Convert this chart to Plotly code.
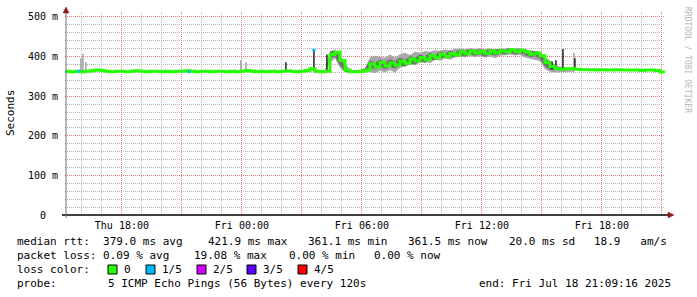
import pandas as pd
import plotly.graph_objects as go

# ---------------- data ----------------
start = "2025-07-17 15:09:16"
end = "2025-07-18 21:09:16"
grid_times = pd.date_range(start, periods=121, freq="15min")

median_ms = [
    363, 362, 363, 362, 363,
    364, 366, 365, 363, 362,
    363, 363, 362, 363, 364,
    363, 362, 363, 363, 362,
    363, 362, 363, 363, 364,
    363, 362, 363, 363, 362,
    363, 363, 362, 363, 362,
    363, 365, 363, 362, 363,
    362, 363, 362, 363, 364,
    363, 362, 363, 365, 369,
    363, 362, 363, 405, 411,
    390, 366, 362, 362, 363,
    366, 382, 374, 385, 376,
    384, 378, 388, 383, 394,
    389, 398, 392, 403, 397,
    406, 400, 408, 404, 412,
    407, 414, 409, 413, 408,
    414, 410, 415, 412, 417,
    413, 416, 411, 406, 409,
    402, 385, 375, 370, 368,
    369, 370, 368, 367, 367,
    367, 366, 367, 366, 366,
    367, 366, 366, 366, 366,
    365, 366, 366, 365, 361,
    361,
]

# outer smoke (spread of the pings), grid index 52..102
smoke_start = 52
smoke_lo = [
    361, 385, 395, 372, 360, 359, 359, 360, 360, 362,
    358, 364, 360, 366, 360, 372, 375, 380, 378, 385,
    388, 383, 392, 390, 395, 392, 398, 400, 398, 402,
    399, 401, 397, 400, 396, 402, 404, 405, 403, 404,
    398, 395, 392, 388, 368, 362, 360, 360, 361, 362,
    362,
]
smoke_hi = [
    366, 414, 418, 408, 385, 365, 365, 366, 372, 398,
    402, 400, 397, 405, 398, 406, 410, 404, 412, 410,
    414, 412, 416, 415, 418, 416, 420, 420, 419, 421,
    420, 421, 419, 421, 418, 420, 421, 422, 420, 421,
    418, 416, 414, 412, 400, 390, 380, 375, 374, 372,
    370,
]

# inner (dense) smoke, grid index 53..98
inner_start = 53
inner_lo = [
    395, 400, 378, 362, 360, 360, 361, 362,
    372, 368, 375, 368, 374, 370,
    378, 375, 383, 380, 388, 384,
    393, 391, 398, 396, 400, 399,
    404, 400, 406, 402, 405, 400, 406, 403, 407, 405, 409, 406, 409,
    404, 399, 401, 395,
    375, 367, 364,
]
inner_hi = [
    412, 415, 400, 375, 364, 364, 365, 370,
    390, 385, 392, 386, 393, 388,
    397, 392, 401, 397, 405, 400,
    410, 404, 413, 408, 415, 411,
    418, 414, 419, 416, 418, 415, 419, 417, 420, 418, 421, 419, 420,
    417, 413, 415, 410,
    395, 385, 376,
]

# single-sample spikes
spike_times = ["2025-07-17 15:57", "2025-07-17 16:03", "2025-07-17 16:12",
               "2025-07-17 23:57", "2025-07-18 00:12", "2025-07-18 02:12",
               "2025-07-18 03:36", "2025-07-18 04:15", "2025-07-18 15:30",
               "2025-07-18 15:42", "2025-07-18 16:03", "2025-07-18 16:36",
               "2025-07-18 16:39"]
spike_lo = [363, 363, 363, 363, 363, 363, 363, 363, 368, 368, 368, 368, 368]
spike_hi = [395, 407, 386, 391, 386, 386, 416, 405, 388, 391, 419, 410, 396]
spike_dark = [False, False, False, False, False, True, True, True, True, True, True, False, True]

loss_times = ["2025-07-17 15:51", "2025-07-17 21:21", "2025-07-18 03:36"]
loss_ms = [363, 362, 416]

y_ticks = [0, 100, 200, 300, 400, 500]
y_ticktext = ["0\u00a0\u00a0", "100 m", "200 m", "300 m", "400 m", "500 m"]
x_ticks = ["2025-07-17 18:00", "2025-07-17 21:00", "2025-07-18 00:00", "2025-07-18 03:00",
           "2025-07-18 06:00", "2025-07-18 09:00", "2025-07-18 12:00", "2025-07-18 15:00",
           "2025-07-18 18:00", "2025-07-18 21:00"]
x_ticktext = ["Thu 18:00", "", "Fri 00:00", "", "Fri 06:00", "", "Fri 12:00", "", "Fri 18:00", ""]

loss_labels = ["0", "1/5", "2/5", "3/5", "4/5"]
loss_colors = ["#26ff00", "#00b8ff", "#d400ff", "#5a00ff", "#ff0000"]

# ---------------- geometry helpers (pixels -> paper) ----------------
W, H = 697, 297
L, R, T, B = 65, 32, 12, 82
PW, PH = W - L - R, H - T - B


def px(x):
    return (x - L) / PW


def py(y):
    return (T + PH - y) / PH


MONO = "DejaVu Sans Mono"

fig = go.Figure()


def band(times, lo, hi, color):
    fig.add_trace(go.Scatter(x=times, y=lo, mode="lines", line=dict(width=0, color=color),
                             showlegend=False, hoverinfo="skip"))
    fig.add_trace(go.Scatter(x=times, y=hi, mode="lines", fill="tonexty", fillcolor=color,
                             line=dict(width=0, color=color),
                             showlegend=False, hoverinfo="skip"))


band(list(grid_times[smoke_start:smoke_start + len(smoke_lo)]), smoke_lo, smoke_hi, "#a8a8a8")
band(list(grid_times[inner_start:inner_start + len(inner_lo)]), inner_lo, inner_hi, "#6e6e6e")

for dark, color in [(False, "#a0a0a0"), (True, "#202020")]:
    xs, ys = [], []
    for t, lo, hi, d in zip(spike_times, spike_lo, spike_hi, spike_dark):
        if d == dark:
            xs += [t, t, None]
            ys += [lo, hi, None]
    fig.add_trace(go.Scatter(x=xs, y=ys, mode="lines", line=dict(width=1.5, color=color),
                             showlegend=False, hoverinfo="skip"))

fig.add_trace(go.Scatter(x=list(grid_times), y=median_ms, mode="lines",
                         line=dict(width=3, color=loss_colors[0], shape="hv"), showlegend=False))
fig.add_trace(go.Scatter(x=loss_times, y=loss_ms, mode="markers",
                         marker=dict(symbol="square", size=3, color=loss_colors[1]),
                         showlegend=False))

minor_hours = list(pd.date_range("2025-07-17 16:00", "2025-07-18 21:00", freq="1h"))

fig.update_layout(
    width=W, height=H,
    margin=dict(l=L, r=R, t=T, b=B, pad=0),
    paper_bgcolor="white", plot_bgcolor="white",
    font=dict(family=MONO, size=10, color="#000000"),
    showlegend=False,
    xaxis=dict(
        type="date", range=[start, end],
        tickmode="array", tickvals=x_ticks, ticktext=x_ticktext,
        showgrid=True, gridcolor="#e27a7a", griddash="1px,1px", gridwidth=1,
        minor=dict(tickmode="array", tickvals=minor_hours, showgrid=True,
                   gridcolor="#b4b4b4", griddash="1px,1px", gridwidth=1),
        showline=False, zeroline=False, ticks="",
        tickfont=dict(family=MONO, size=10, color="#000000"),
        ticklabelstandoff=3,
    ),
    yaxis=dict(
        range=[0, 512.6],
        tickmode="array", tickvals=y_ticks, ticktext=y_ticktext,
        showgrid=True, gridcolor="#e27a7a", griddash="1px,1px", gridwidth=1,
        minor=dict(dtick=20, tick0=0, showgrid=True,
                   gridcolor="#b4b4b4", griddash="1px,1px", gridwidth=1),
        showline=False, zeroline=False, ticks="",
        tickfont=dict(family=MONO, size=10, color="#000000"),
        ticklabelstandoff=6,
    ),
)

# axes lines and arrows
fig.add_shape(type="line", xref="paper", yref="paper", x0=px(62), x1=px(669), y0=0, y1=0,
              line=dict(color="#000000", width=1.5), layer="above")
fig.add_shape(type="line", xref="paper", yref="paper", x0=px(66), x1=px(66), y0=py(218), y1=py(12),
              line=dict(color="#707070", width=1), layer="above")
fig.add_shape(type="path", xref="paper", yref="paper",
              path=f"M {px(668)} {py(212)} L {px(674)} {py(215)} L {px(668)} {py(218)} Z",
              fillcolor="#8b1a1a", line=dict(color="#8b1a1a", width=0.5), layer="above")
fig.add_shape(type="path", xref="paper", yref="paper",
              path=f"M {px(63)} {py(13)} L {px(66)} {py(7)} L {px(69)} {py(13)} Z",
              fillcolor="#8b1a1a", line=dict(color="#8b1a1a", width=0.5), layer="above")


def text(x, y, s, size=11, color="#000000", angle=0, xanchor="left"):
    fig.add_annotation(x=px(x), y=py(y), xref="paper", yref="paper", text=s, showarrow=False,
                       xanchor=xanchor, yanchor="middle", textangle=angle, borderpad=0,
                       font=dict(family=MONO, size=size, color=color))


text(11, 113, "Seconds", size=11, angle=-90, xanchor="center")
text(688, 60, "RRDTOOL / TOBI OETIKER", size=8, color="#b8b8b8", angle=90, xanchor="center")

# legend line 1
text(16, 241, "median rtt:  379.0 ms avg")
text(207, 241, "421.9 ms max")
text(307, 241, "361.1 ms min")
text(407, 241, "361.5 ms now")
text(508, 241, "20.0 ms sd")
text(593, 241, "18.9   am/s")
# legend line 2
text(16, 255, "packet loss: 0.09 % avg")
text(193, 255, "19.08 % max")
text(288, 255, "0.00 % min")
text(373, 255, "0.00 % now")
# legend line 3
text(16, 269, "loss color:")
box_x = [108, 146, 197, 247, 298]
for bx, lab, col in zip(box_x, loss_labels, loss_colors):
    fig.add_shape(type="rect", xref="paper", yref="paper", x0=px(bx), x1=px(bx + 9),
                  y0=py(274), y1=py(265), fillcolor=col, line=dict(color="#000000", width=1))
    text(bx + 15, 269, lab)
# legend line 4
text(16, 283, "probe:")
text(107, 283, "5 ICMP Echo Pings (56 Bytes) every 120s")
text(478, 283, "end: Fri Jul 18 21:09:16 2025")

fig.write_html("out.html")
